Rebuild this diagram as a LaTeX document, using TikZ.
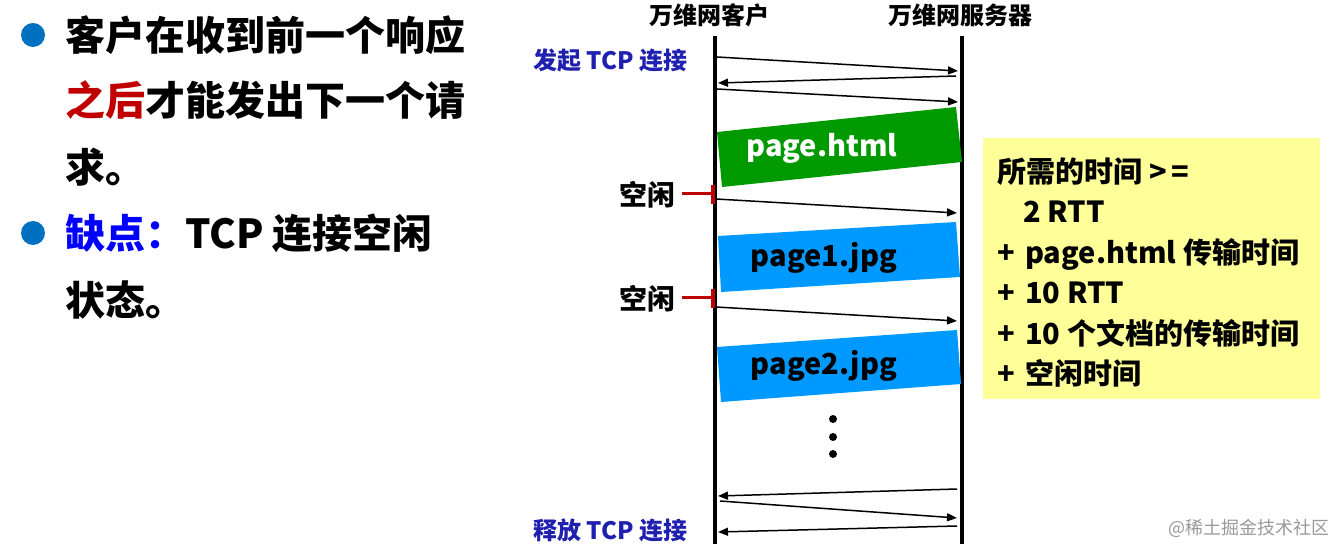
\documentclass[tikz,border=0pt]{standalone}
\usepackage{fontspec}
\setmainfont{Noto Sans CJK SC}
\usepackage{tikz}
\usetikzlibrary{
    arrows.meta,
    positioning
}
\definecolor{bulletblue}{RGB}{0,112,192}
\definecolor{darkred}{RGB}{192,0,0}
\definecolor{pureblue}{RGB}{0,0,255}
\definecolor{navyblue}{RGB}{32,32,176}
\definecolor{htmlgreen}{RGB}{0,153,0}
\definecolor{jpgblue}{RGB}{0,153,255}
\definecolor{noteyellow}{RGB}{255,255,153}
\tikzstyle{msg} = [-{Triangle[length=5pt,width=4pt]}, line width=0.75pt]
\tikzstyle{life} = [line width=2pt]
\tikzstyle{idle} = [draw=darkred, line width=1.5pt]
\tikzstyle{txt} = [inner sep=0pt, font=\bfseries]

\begin{document}
\begin{tikzpicture}[x=0.5pt,y=-0.5pt]
    \useasboundingbox (0,0) rectangle (1336,544);
    \fill[bulletblue] (33,35) circle (6pt);
    \fill[bulletblue] (33,233) circle (6pt);
    \node[txt, anchor=west, font=\bfseries\fontsize{20}{24}\selectfont] (l1) at (65,35) {客户在收到前一个响应};
    \node[txt, anchor=west, font=\bfseries\fontsize{20}{24}\selectfont] (l2) at (65,100) {\textcolor{darkred}{之后}才能发出下一个请};
    \node[txt, anchor=west, font=\bfseries\fontsize{20}{24}\selectfont] (l3) at (65,167) {求。};
    \node[txt, anchor=west, font=\bfseries\fontsize{20}{24}\selectfont] (l4) at (65,233) {\textcolor{pureblue}{缺点：}TCP 连接空闲};
    \node[txt, anchor=west, font=\bfseries\fontsize{20}{24}\selectfont] (l5) at (65,300) {状态。};

    \node[txt, font=\bfseries\fontsize{12}{14}\selectfont] (client) at (709,15) {万维网客户};
    \node[txt, font=\bfseries\fontsize{12}{14}\selectfont] (server) at (960,15) {万维网服务器};
    \coordinate (cTop) at (715,36);
    \coordinate (cBot) at (715,544);
    \coordinate (sTop) at (962,36);
    \coordinate (sBot) at (962,544);
    \draw[life] (cTop) -- (cBot);
    \draw[life] (sTop) -- (sBot);

    \node[txt, anchor=west, text=navyblue, font=\bfseries\fontsize{12}{14}\selectfont] (open) at (533,60) {发起 TCP 连接};
    \node[txt, anchor=west, text=navyblue, font=\bfseries\fontsize{12}{14}\selectfont] (close) at (533,530) {释放 TCP 连接};

    \coordinate (c1) at (717,57);
    \coordinate (s1) at (958,71);
    \coordinate (s2) at (956,76);
    \coordinate (c2) at (718,83);
    \coordinate (c3) at (717,89);
    \coordinate (s3) at (958,102);
    \draw[msg] (c1) -- (s1);
    \draw[msg] (s2) -- (c2);
    \draw[msg] (c3) -- (s3);

    \fill[htmlgreen] (717,132) -- (956,107) -- (962,162) -- (722,187) -- cycle;
    \node[txt, text=white, font=\bfseries\fontsize{14.5}{17}\selectfont] (html) at (822,148) {page.html};

    \coordinate (i1) at (682,194);
    \coordinate (t1) at (713,194);
    \draw[idle] (i1) -- (t1);
    \draw[draw=darkred, line width=2pt] (713,185) -- (713,204);
    \node[txt, font=\bfseries\fontsize{14}{16}\selectfont] (idleA) at (647,195) {空闲};
    \coordinate (c4) at (716,199);
    \coordinate (s4) at (957,213);
    \draw[msg] (c4) -- (s4);

    \fill[jpgblue] (718,236) -- (956,222) -- (960,277) -- (721,292) -- cycle;
    \node[txt, font=\bfseries\fontsize{14.5}{17}\selectfont] (jpg1) at (824,258) {page1.jpg};

    \coordinate (i2) at (682,298);
    \coordinate (t2) at (713,298);
    \draw[idle] (i2) -- (t2);
    \draw[draw=darkred, line width=2pt] (713,289) -- (713,308);
    \node[txt, font=\bfseries\fontsize{14}{16}\selectfont] (idleB) at (647,299) {空闲};
    \coordinate (c5) at (716,307);
    \coordinate (s5) at (957,321);
    \draw[msg] (c5) -- (s5);

    \fill[jpgblue] (717,347) -- (957,330) -- (961,384) -- (721,402) -- cycle;
    \node[txt, font=\bfseries\fontsize{14.5}{17}\selectfont] (jpg2) at (824,366) {page2.jpg};

    \foreach \y in {419,437,454}
        \fill (833,\y) circle (2pt);

    \coordinate (s6) at (957,489);
    \coordinate (c6) at (718,496);
    \coordinate (c7) at (720,501);
    \coordinate (s7) at (957,518);
    \coordinate (s8) at (957,526);
    \coordinate (c8) at (718,532);
    \draw[msg] (s6) -- (c6);
    \draw[msg] (c7) -- (s7);
    \draw[msg] (s8) -- (c8);

    \node[fill=noteyellow, minimum width=168.5pt, minimum height=130.5pt, anchor=north west, inner sep=0pt] (note) at (983,138) {};
    \node[txt, anchor=north west, align=left, font=\bfseries\fontsize{14.5}{20.25}\selectfont] (cost) at (997,157) {所需的时间 >\,=\\\hspace*{13pt}2 RTT\\+\hspace{0.35em}page.html 传输时间\\+\hspace{0.35em}10 RTT\\+\hspace{0.35em}10 个文档的传输时间\\+\hspace{0.35em}空闲时间};

    \node[inner sep=0pt, text=black!40, anchor=east, font=\fontsize{9}{11}\selectfont] (mark) at (1330,528) {@稀土掘金技术社区};
\end{tikzpicture}
\end{document}
